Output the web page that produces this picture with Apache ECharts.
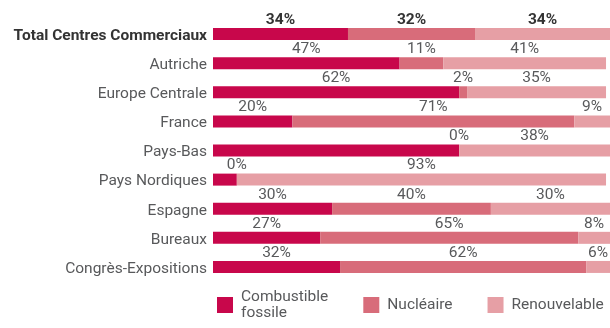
<!DOCTYPE html>
<html>
<head>
<meta charset="utf-8">
<script src="https://cdn.jsdelivr.net/npm/echarts@6/dist/echarts.min.js"></script>
<style>
  html, body { margin: 0; padding: 0; background: #fff; }
  #chart { width: 610px; height: 328px; }
</style>
</head>
<body>
<div id="chart"></div>
<script>
// Energy mix by business unit (share of each source, %)
const categories = ['Total Centres Commerciaux', 'Autriche', 'Europe Centrale', 'France', 'Pays-Bas',
  'Pays Nordiques', 'Espagne', 'Bureaux', 'Congrès-Expositions'];
const fossile      = [34, 47, 62, 20, 62,  6, 30, 27, 32];
const nucleaire    = [32, 11,  2, 71,  0,  0, 40, 65, 62];
const renouvelable = [34, 41, 35,  9, 38, 93, 30,  8,  6];
const seriesNames = ['Combustible\nfossile', 'Nucléaire', 'Renouvelable'];

const colors = ['#C8074B', '#D86C7A', '#E69FA5'];
const FONT = 'Roboto';
const TEXT = '#58595B';
const TOTAL_ROW = 'Total Centres Commerciaux';
// rows whose fossil share carries no value label
const unlabelledFossil = ['Pays-Bas', 'Pays Nordiques'];

function buildData(values, isFossil) {
  return values.map((v, i) => {
    const item = { value: v };
    const cat = categories[i];
    if (cat === TOTAL_ROW) {
      item.label = { fontWeight: 'bold', color: '#333' };
    }
    if (isFossil && unlabelledFossil.includes(cat)) {
      item.label = { show: false };
    }
    return item;
  });
}

const seriesValues = [fossile, nucleaire, renouvelable];

const chart = echarts.init(document.getElementById('chart'), null, { renderer: 'canvas' });
chart.setOption({
  animation: false,
  textStyle: { fontFamily: FONT },
  grid: { left: 213, right: 0, top: 19.5, bottom: 46.5, containLabel: false },
  xAxis: { type: 'value', min: 0, max: 100, show: false },
  yAxis: {
    type: 'category',
    data: categories,
    inverse: true,
    axisLine: { show: false },
    axisTick: { show: false },
    axisLabel: {
      margin: 6,
      padding: [4, 0, 0, 0],
      fontFamily: FONT,
      fontSize: 15.5,
      color: TEXT,
      formatter: v => v === TOTAL_ROW ? '{b|' + v + '}' : v,
      rich: { b: { fontWeight: 'bold', color: '#333', fontSize: 15.5, fontFamily: FONT } }
    }
  },
  legend: {
    top: 281,
    left: 217,
    padding: 0,
    itemWidth: 16,
    itemHeight: 16,
    itemGap: 35,
    icon: 'rect',
    textStyle: { fontFamily: FONT, fontSize: 15.5, color: TEXT, lineHeight: 16, padding: [0, 0, 0, 3] },
    data: [
      { name: seriesNames[0], textStyle: { padding: [16, 0, 0, 3] } },
      { name: seriesNames[1] },
      { name: seriesNames[2] }
    ]
  },
  series: seriesValues.map((vals, s) => ({
    name: seriesNames[s],
    type: 'bar',
    stack: 'mix',
    barWidth: 12,
    itemStyle: { color: colors[s] },
    label: {
      show: true,
      position: 'top',
      distance: 0,
      fontFamily: FONT,
      fontSize: 15.5,
      color: TEXT,
      formatter: '{c}%'
    },
    data: buildData(vals, s === 0)
  }))
});
</script>
</body>
</html>
